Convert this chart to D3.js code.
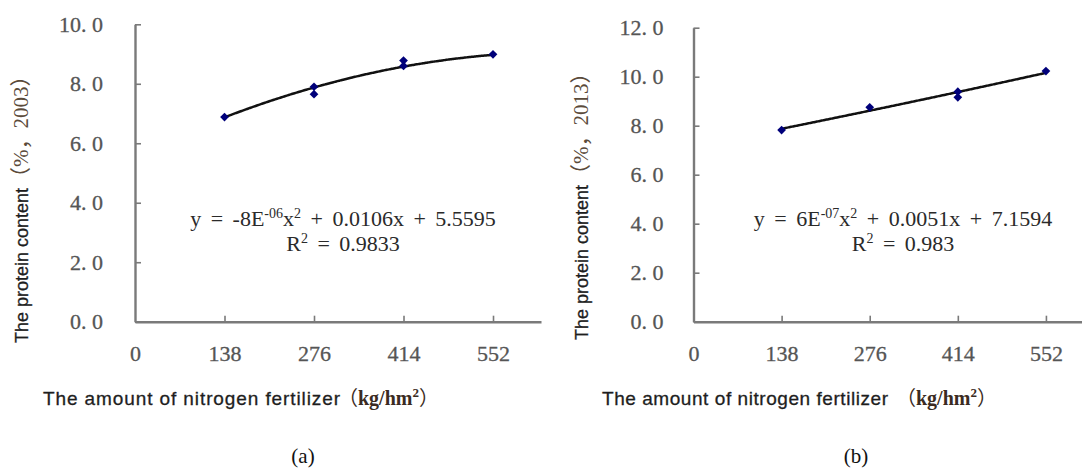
<!DOCTYPE html>
<html>
<head>
<meta charset="utf-8">
<script src="https://cdn.jsdelivr.net/npm/d3@7/dist/d3.min.js"></script>
<style>
  html, body { margin: 0; padding: 0; background: #fff; }
  svg { display: block; }
</style>
</head>
<body>
<svg id="chart" width="1082" height="470"></svg>
<script>
// ---- data ----
const xTickValues = [0, 138, 276, 414, 552];
const yTicksA = [0, 2, 4, 6, 8, 10];
const yTicksB = [0, 2, 4, 6, 8, 10, 12];

// panel (a) 2003
const nitrogenA = [138, 276, 276, 414, 414, 552];
const proteinA  = [6.88, 7.90, 7.65, 8.78, 8.60, 8.99];
const trendCoefA = [-8e-6, 0.0106, 5.5595];   // ax^2 + bx + c
const equationA = { a: "-8E", aExp: "-06", b: "0.0106", c: "5.5595", r2: "0.9833" };

// panel (b) 2013
const nitrogenB = [138, 276, 414, 414, 552];
const proteinB  = [7.82, 8.75, 9.39, 9.16, 10.23];
const trendCoefB = [6e-7, 0.0051, 7.1594];
const equationB = { a: "6E", aExp: "-07", b: "0.0051", c: "7.1594", r2: "0.983" };

const yTitleA = ["The protein content", "（%，2003）"];
const yTitleB = ["The protein content", "（%，2013）"];
const xTitle = "The amount of nitrogen fertilizer";
const panelLabels = ["(a)", "(b)"];

// ---- drawing ----
const svg = d3.select("#chart");
const AXIS = "#7a7a7a";
const SERIF = "'Liberation Serif', 'Times New Roman', serif";
const SANS = "'Liberation Sans', Arial, sans-serif";
const CJK = "'Liberation Serif', 'Noto Sans CJK SC', serif";

function fmtY(v) { return d3.format(".1f")(v).replace(".", ". "); }

function panel(cfg) {
  const g = svg.append("g");
  const x = d3.scaleLinear().domain([0, cfg.xMax]).range([cfg.x0, cfg.x1]);
  const y = d3.scaleLinear().domain([0, cfg.yMax]).range([cfg.y0, cfg.y1]);

  // y axis
  const ya = g.append("g").attr("transform", `translate(${cfg.x0},0)`)
    .call(d3.axisLeft(y).tickValues(cfg.yTicks).tickFormat(fmtY)
      .tickSizeInner(-6).tickSizeOuter(0).tickPadding(cfg.yPad));
  // x axis
  const xa = g.append("g").attr("transform", `translate(0,${cfg.y0})`)
    .call(d3.axisBottom(x).tickValues(xTickValues).tickFormat(d3.format("d"))
      .tickSizeInner(-6).tickSizeOuter(0).tickPadding(24));
  [ya, xa].forEach(a => {
    a.select(".domain").attr("stroke", AXIS).attr("stroke-width", 2.4);
    a.selectAll(".tick line").attr("stroke", AXIS).attr("stroke-width", 1.6);
    a.selectAll(".tick text").attr("fill", "#555").attr("font-family", SERIF)
      .attr("font-size", 22).attr("stroke", "#555").attr("stroke-width", 0.3);
  });
  xa.selectAll(".tick").filter(d => d === 0).select("line").remove();

  // trendline
  const [qa, qb, qc] = cfg.coef;
  const xs = d3.range(138, 552.01, 3);
  const line = d3.line().x(d => x(d)).y(d => y(qa * d * d + qb * d + qc)).curve(d3.curveMonotoneX);
  g.append("path").datum(xs).attr("d", line).attr("fill", "none")
    .attr("stroke", "#111").attr("stroke-width", 2.5);

  // markers
  g.selectAll("path.pt").data(cfg.xs.map((v, i) => [v, cfg.ys[i]])).join("path")
    .attr("class", "pt")
    .attr("d", d3.symbol(d3.symbolSquare, 38)())
    .attr("transform", d => `translate(${x(d[0])},${y(d[1])}) rotate(45)`)
    .attr("fill", "#00007a");

  // equation
  const eq = cfg.eq;
  const t1 = g.append("text").attr("x", cfg.eqX).attr("y", 226)
    .attr("text-anchor", "middle").attr("font-family", SERIF).attr("font-size", 22)
    .attr("fill", "#2a2a2a").attr("word-spacing", 4);
  t1.append("tspan").text(`y = ${eq.a}`);
  t1.append("tspan").attr("dy", -8).attr("font-size", 14).text(eq.aExp);
  t1.append("tspan").attr("dy", 8).text("x");
  t1.append("tspan").attr("dy", -8).attr("font-size", 14).text("2");
  t1.append("tspan").attr("dy", 8).text(` + ${eq.b}x + ${eq.c}`);
  const t2 = g.append("text").attr("x", cfg.eqX).attr("y", 251)
    .attr("text-anchor", "middle").attr("font-family", SERIF).attr("font-size", 22)
    .attr("fill", "#2a2a2a").attr("word-spacing", 4);
  t2.append("tspan").text("R");
  t2.append("tspan").attr("dy", -8).attr("font-size", 14).text("2");
  t2.append("tspan").attr("dy", 8).text(` = ${eq.r2}`);

  // y title
  const yt = g.append("text")
    .attr("transform", `translate(${cfg.yTitleX},${cfg.yTitleBottom}) rotate(-90)`)
    .attr("text-anchor", "start");
  yt.append("tspan").attr("font-family", SANS).attr("font-size", 18).attr("fill", "#1e1e1e")
    .attr("stroke", "#1e1e1e").attr("stroke-width", 0.3).text(cfg.yTitle[0]);
  yt.append("tspan").attr("font-family", CJK).attr("font-size", 21).attr("fill", "#5a4a3a")
    .text(cfg.yTitle[1]);

  // x title
  g.append("text").attr("x", cfg.xTitleX).attr("y", 405)
    .attr("font-family", SANS).attr("font-size", 19).attr("fill", "#1e1e1e")
    .attr("stroke", "#1e1e1e").attr("stroke-width", 0.3)
    .attr("textLength", cfg.xTitleLen).attr("lengthAdjust", "spacing")
    .text(xTitle);
  const u = g.append("text").attr("x", cfg.unitX).attr("y", 405)
    .attr("font-family", CJK).attr("font-size", 20).attr("fill", "#3b2b22");
  u.append("tspan").text("（");
  u.append("tspan").attr("font-weight", "bold").text("kg/hm");
  u.append("tspan").attr("dy", -8).attr("font-size", 13).attr("font-weight", "bold").text("2");
  u.append("tspan").attr("dy", 8).text("）");

  // panel label
  g.append("text").attr("x", cfg.labelX).attr("y", 463).attr("text-anchor", "middle")
    .attr("font-family", SERIF).attr("font-size", 21).attr("fill", "#111").text(cfg.label);
}

panel({
  x0: 135, x1: 541, xMax: 626, y0: 321.7, y1: 24.3, yMax: 10, yTicks: yTicksA, yPad: 32,
  xs: nitrogenA, ys: proteinA, coef: trendCoefA, eq: equationA, eqX: 343,
  yTitle: yTitleA, yTitleX: 28, yTitleBottom: 343,
  xTitleX: 43, xTitleLen: 297, unitX: 338, labelX: 303, label: panelLabels[0]
});
panel({
  x0: 693.5, x1: 1082, xMax: 608.5, y0: 321.7, y1: 27.7, yMax: 12, yTicks: yTicksB, yPad: 30,
  xs: nitrogenB, ys: proteinB, coef: trendCoefB, eq: equationB, eqX: 903,
  yTitle: yTitleB, yTitleX: 588, yTitleBottom: 340,
  xTitleX: 602, xTitleLen: 286, unitX: 896, labelX: 856, label: panelLabels[1]
});
</script>
</body>
</html>
